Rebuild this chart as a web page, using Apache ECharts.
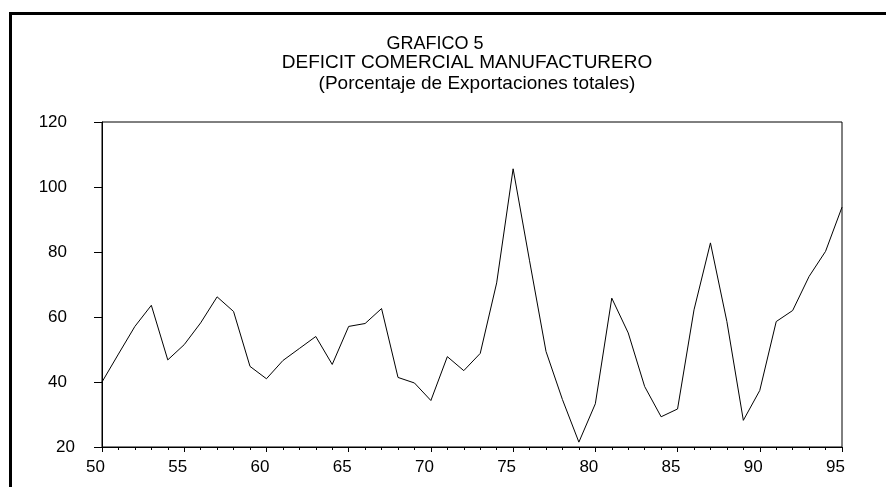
<!DOCTYPE html>
<html>
<head>
<meta charset="utf-8">
<script src="https://cdn.jsdelivr.net/npm/echarts@6/dist/echarts.min.js"></script>
<style>
  html, body { margin: 0; padding: 0; background: #fff; }
  #chart { width: 886px; height: 487px; }
</style>
</head>
<body>
<div id="chart"></div>
<script>
// años (50 = 1950 ... 95 = 1995)
var years = [50, 51, 52, 53, 54, 55, 56, 57, 58, 59,
             60, 61, 62, 63, 64, 65, 66, 67, 68, 69,
             70, 71, 72, 73, 74, 75, 76, 77, 78, 79,
             80, 81, 82, 83, 84, 85, 86, 87, 88, 89,
             90, 91, 92, 93, 94, 95];
// deficit comercial manufacturero, % de exportaciones totales
var deficit = [40.0, 48.6, 57.1, 63.6, 46.8, 51.5, 58.2, 66.2, 61.7, 44.8,
               41.0, 46.6, 50.3, 54.0, 45.4, 57.1, 58.0, 62.6, 41.4, 39.7,
               34.3, 47.8, 43.5, 48.8, 70.5, 105.6, 77.3, 49.4, 34.6, 21.5,
               33.3, 65.8, 55.1, 38.6, 29.3, 31.7, 62.2, 82.8, 58.6, 28.2,
               37.4, 58.6, 62.0, 72.5, 80.2, 93.8];
var titleLines = ['GRAFICO 5', 'DEFICIT COMERCIAL MANUFACTURERO', '(Porcentaje de Exportaciones totales)'];
var yTicks = [20, 40, 60, 80, 100, 120];
var xTicks = [50, 55, 60, 65, 70, 75, 80, 85, 90, 95];

var font = 'Liberation Sans, Arial, sans-serif';
var chart = echarts.init(document.getElementById('chart'));

var seriesData = years.map(function (y, i) { return [y, deficit[i]]; });

chart.setOption({
  animation: false,
  backgroundColor: '#fff',
  textStyle: { fontFamily: font },
  title: [
    { text: titleLines[0], left: 430, top: 30, textAlign: 'center',
      textStyle: { fontSize: 18, fontWeight: 'normal', color: '#000', fontFamily: font } },
    { text: titleLines[1], left: 462, top: 48, textAlign: 'center',
      textStyle: { fontSize: 19, fontWeight: 'normal', color: '#000', fontFamily: font } },
    { text: titleLines[2], left: 472, top: 69, textAlign: 'center',
      textStyle: { fontSize: 19, fontWeight: 'normal', color: '#000', fontFamily: font } }
  ],
  graphic: [{
    // marco exterior
    type: 'rect',
    shape: { x: 10.5, y: 13.5, width: 1000, height: 1000 },
    style: { fill: 'none', stroke: '#000', lineWidth: 3 },
    silent: true
  }],
  grid: {
    left: 102, right: 44, top: 122, bottom: 40,
    show: true, borderColor: '#000', borderWidth: 1, backgroundColor: 'transparent'
  },
  xAxis: {
    type: 'value',
    min: xTicks[0],
    max: xTicks[xTicks.length - 1],
    interval: 5,
    axisLine: { lineStyle: { color: '#000', width: 1 } },
    axisTick: { show: true, length: 5, lineStyle: { color: '#000' } },
    minorTick: { show: true, splitNumber: 5, length: 3, lineStyle: { color: '#000' } },
    splitLine: { show: false },
    axisLabel: {
      color: '#000', fontSize: 17, margin: 12, padding: [0, 13, 0, 0],
      formatter: function (v) { return String(v); }
    }
  },
  yAxis: {
    type: 'value',
    min: yTicks[0],
    max: yTicks[yTicks.length - 1],
    interval: 20,
    axisLine: { show: true, lineStyle: { color: '#000', width: 1 } },
    axisTick: { show: true, length: 8, lineStyle: { color: '#000' } },
    splitLine: { show: false },
    axisLabel: {
      color: '#000', margin: 27,
      formatter: function (v) { return v === 20 ? '{lo|' + v + '}' : '{n|' + v + '}'; },
      rich: {
        lo: { fontSize: 17, color: '#000', fontFamily: font },
        n: { fontSize: 17, color: '#000', fontFamily: font, padding: [0, 8, 0, 0] }
      }
    }
  },
  series: [{
    type: 'line',
    data: seriesData,
    showSymbol: false,
    symbol: 'none',
    lineStyle: { color: '#000', width: 1 },
    silent: true
  }]
});
</script>
</body>
</html>
